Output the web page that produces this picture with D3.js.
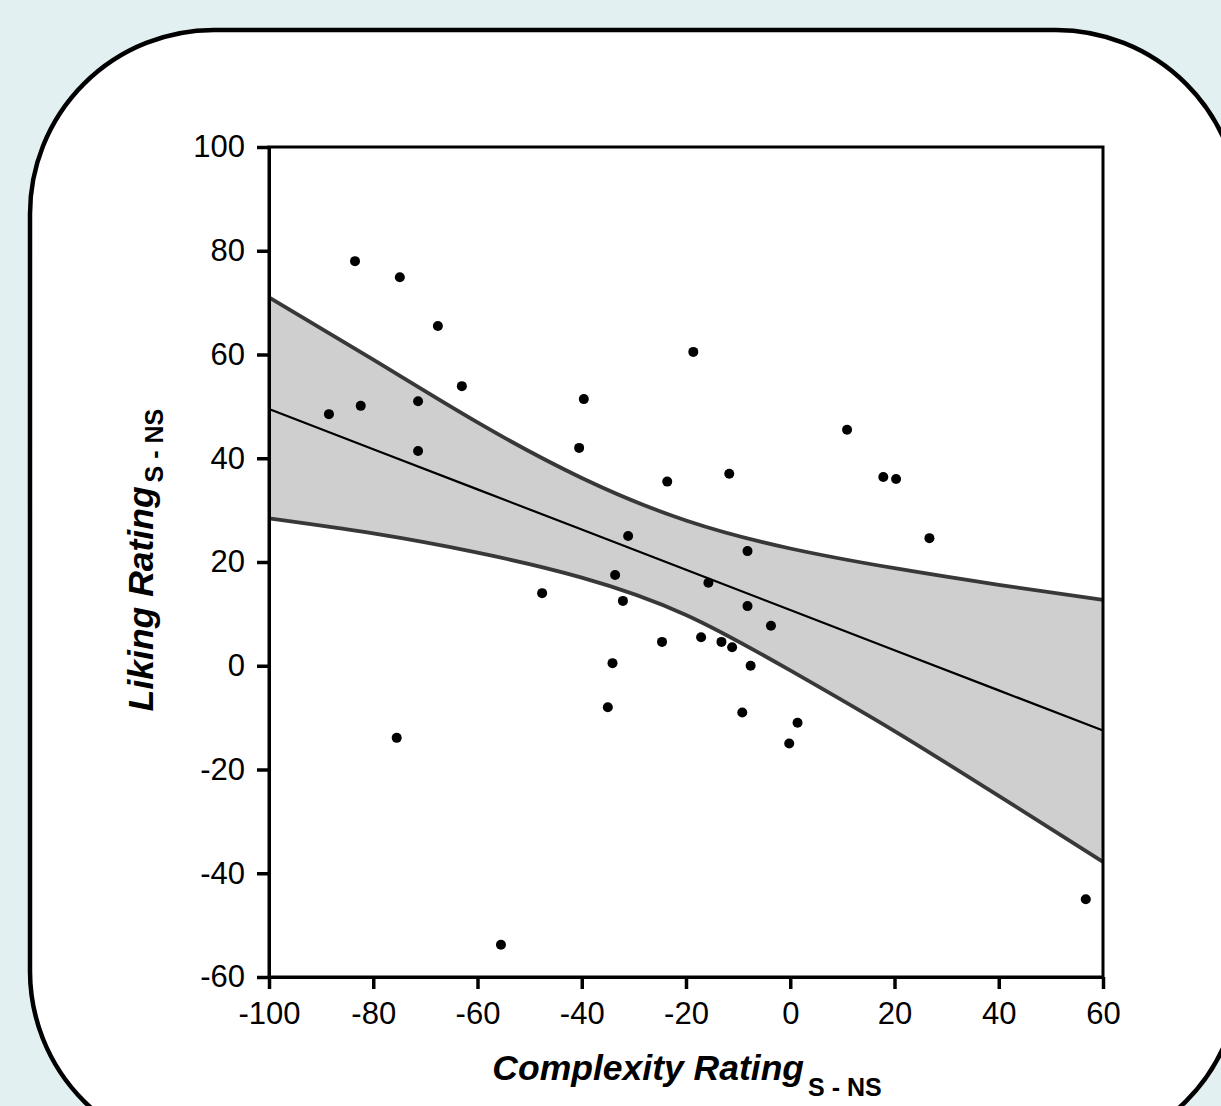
<!DOCTYPE html>
<html>
<head>
<meta charset="utf-8">
<script src="https://cdn.jsdelivr.net/npm/d3@7"></script>
<style>
  body { margin: 0; background: #e3f0f2; }
  svg { display: block; }
  .tick text { font-family: "Liberation Sans", Arial, sans-serif; font-size: 31px; fill: #000; }
  .title { font-family: "Liberation Sans", Arial, sans-serif; fill: #000; }
</style>
</head>
<body>
<div id="chart"></div>
<script>
// Scatter points (difference scores, S - NS)
const complexity = [-83.5, -74.9, -67.6, -63.0, -88.5, -82.4, -71.4, -71.4, -75.5, -55.5,
  -47.6, -40.5, -39.6, -35.0, -34.1, -33.6, -32.1, -31.1, -24.6, -23.6,
  -18.6, -17.1, -15.7, -13.2, -11.7, -11.15, -9.2, -8.2, -8.2, -7.6,
  -3.7, -0.2, 1.4, 10.9, 17.85, 20.3, 26.7, 56.7];
const liking = [78.0, 74.9, 65.5, 53.9, 48.5, 50.1, 51.0, 41.4, -13.9, -53.8,
  14.0, 42.0, 51.4, -8.0, 0.5, 17.5, 12.5, 25.0, 4.6, 35.5,
  60.5, 5.5, 16.0, 4.6, 37.0, 3.55, -9.0, 22.1, 11.5, 0.0,
  7.7, -15.0, -11.0, 45.5, 36.4, 36.0, 24.6, -45.0];

// Regression line and confidence band, read at each x tick
const bandX = [-100, -80, -60, -40, -20, 0, 20, 40, 60];
const fitY = [49.5, 41.75, 34.0, 26.25, 18.5, 10.75, 3.0, -4.75, -12.5];
const upperY = [71.0, 59.0, 46.9, 36.2, 28.0, 22.6, 18.8, 15.6, 12.7];
const lowerY = [28.4, 25.5, 21.8, 17.0, 9.8, -0.9, -12.6, -25.1, -37.8];

const xTicks = [-100, -80, -60, -40, -20, 0, 20, 40, 60];
const yTicks = [-60, -40, -20, 0, 20, 40, 60, 80, 100];

const W = 1221, H = 1106;
const svg = d3.select("#chart").append("svg")
    .attr("width", W)
    .attr("height", H);

// Rounded white panel running off the right and bottom edges
svg.append("rect")
    .attr("x", 30).attr("y", 30)
    .attr("width", 1210).attr("height", 1125)
    .attr("rx", 184).attr("ry", 184)
    .attr("fill", "#fff")
    .attr("stroke", "#000")
    .attr("stroke-width", 4.5);

const x = d3.scaleLinear().domain([-100, 60]).range([269, 1103]);
const y = d3.scaleLinear().domain([-60, 100]).range([977, 147]);

const band = bandX.map((v, i) => ({ x: v, fit: fitY[i], lo: lowerY[i], hi: upperY[i] }));

svg.append("path")
    .datum(band)
    .attr("fill", "#cfcfcf")
    .attr("d", d3.area().curve(d3.curveNatural)
        .x(d => x(d.x)).y0(d => y(d.lo)).y1(d => y(d.hi)));

["lo", "hi"].forEach(k => {
  svg.append("path")
      .datum(band)
      .attr("fill", "none")
      .attr("stroke", "#383838")
      .attr("stroke-width", 3.8)
      .attr("d", d3.line().curve(d3.curveNatural).x(d => x(d.x)).y(d => y(d[k])));
});

svg.append("path")
    .datum(band)
    .attr("fill", "none")
    .attr("stroke", "#000")
    .attr("stroke-width", 2.2)
    .attr("d", d3.line().x(d => x(d.x)).y(d => y(d.fit)));

// points
svg.append("g")
  .selectAll("circle")
  .data(complexity.map((c, i) => [c, liking[i]]))
  .join("circle")
    .attr("cx", d => x(d[0]))
    .attr("cy", d => y(d[1]))
    .attr("r", 5)
    .attr("fill", "#000");

// frame
svg.append("rect")
    .attr("x", 269).attr("y", 147)
    .attr("width", 1103 - 269).attr("height", 977 - 147)
    .attr("fill", "none")
    .attr("stroke", "#000")
    .attr("stroke-width", 3);

const fmt = d => String(d);  // plain hyphen minus, like the original
const xAxis = svg.append("g")
    .attr("transform", "translate(0,977)")
    .call(d3.axisBottom(x).tickValues(xTicks).tickFormat(fmt).tickSize(12).tickSizeOuter(0).tickPadding(13));
const yAxis = svg.append("g")
    .attr("transform", "translate(269,0)")
    .call(d3.axisLeft(y).tickValues(yTicks).tickFormat(fmt).tickSize(12).tickSizeOuter(0).tickPadding(12));

[xAxis, yAxis].forEach(g => {
  g.select(".domain").attr("stroke-width", 3);
  g.selectAll(".tick line").attr("stroke-width", 3.5);
  g.attr("font-family", null).attr("font-size", null);
});

// axis titles with subscripts
const xt = svg.append("text")
    .attr("class", "title")
    .attr("x", 687).attr("y", 1080)
    .attr("text-anchor", "middle");
xt.append("tspan").attr("font-size", 35.5).attr("font-weight", "bold").attr("font-style", "italic")
    .text("Complexity Rating");
xt.append("tspan").attr("font-size", 25).attr("font-weight", "bold").attr("dx", 4).attr("dy", 16)
    .text("S - NS");

const yt = svg.append("text")
    .attr("class", "title")
    .attr("transform", "translate(153,560) rotate(-90)")
    .attr("text-anchor", "middle");
yt.append("tspan").attr("font-size", 35.5).attr("font-weight", "bold").attr("font-style", "italic")
    .text("Liking Rating");
yt.append("tspan").attr("font-size", 25).attr("font-weight", "bold").attr("dx", 4).attr("dy", 10)
    .text("S - NS");
</script>
</body>
</html>
